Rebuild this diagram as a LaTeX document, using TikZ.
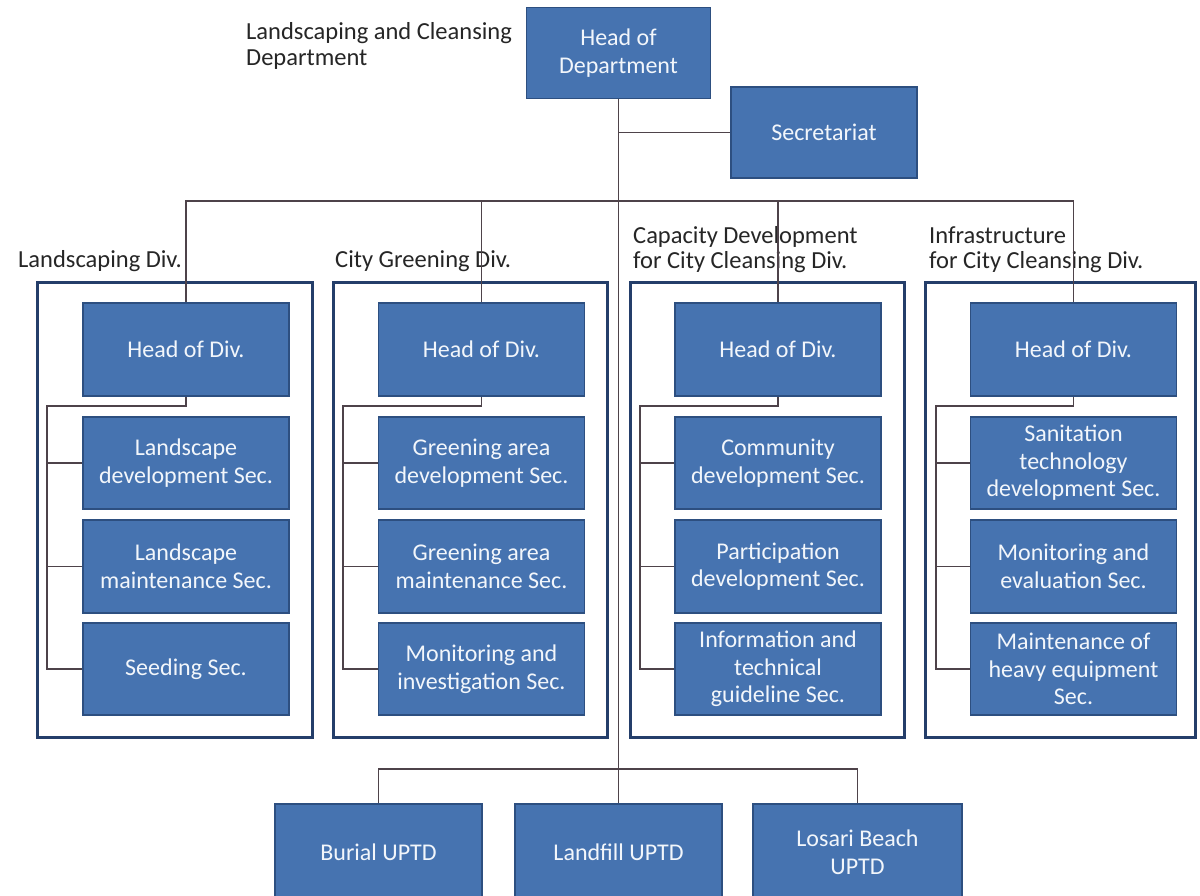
\documentclass[tikz,border=0pt]{standalone}
\usepackage{fontspec}
\setmainfont{Carlito}
\definecolor{boxfill}{HTML}{4673B0}
\definecolor{boxedge}{HTML}{2D4F80}
\definecolor{boxtext}{HTML}{F2F6FB}
\definecolor{framecol}{HTML}{243E6A}
\definecolor{linecol}{HTML}{4E434A}
\definecolor{labelcol}{HTML}{262626}
\begin{document}
\begin{tikzpicture}[x=1pt,y=-1pt,
  unit/.style={draw=boxedge, line width=1.6pt, fill=boxfill, text=boxtext,
    font=\fontsize{24}{27.5}\selectfont, align=center, inner sep=0pt,
    minimum width=206pt, minimum height=93pt},
  divframe/.style={draw=framecol, line width=3pt, inner sep=0pt,
    minimum height=455pt},
  caption/.style={text=labelcol, font=\fontsize{24.5}{25.5}\selectfont,
    align=left, anchor=west, inner sep=0pt},
  conn/.style={draw=linecol, line width=1.4pt}]

\clip (0,0) rectangle (1200,895);
\fill[white] (0,0) rectangle (1200,895);

% department level
\node[caption] (title) at (246,46) {Landscaping and Cleansing\\Department};
\node[unit, minimum width=184pt, minimum height=91pt] (hod) at (618.5,53) {Head of\\Department};
\node[unit, minimum width=186pt, minimum height=91pt] (sec) at (824,132.5) {Secretariat};

% division frames and captions
\node[divframe, minimum width=275pt] (f1) at (174.5,509.5) {};
\node[divframe, minimum width=274pt] (f2) at (470,509.5) {};
\node[divframe, minimum width=274pt] (f3) at (767,509.5) {};
\node[divframe, minimum width=270pt] (f4) at (1060,509.5) {};

\node[caption] (l1) at (18,261) {Landscaping Div.};
\node[caption] (l2) at (335,261) {City Greening Div.};
\node[caption] (l3) at (633,249.5) {Capacity Development\\for City Cleansing Div.};
\node[caption] (l4) at (929,249.5) {Infrastructure\\for City Cleansing Div.};

% heads of division
\node[unit] (hd1) at (186,349.5) {Head of Div.};
\node[unit] (hd2) at (481.5,349.5) {Head of Div.};
\node[unit] (hd3) at (778,349.5) {Head of Div.};
\node[unit] (hd4) at (1073.5,349.5) {Head of Div.};

% sections
\node[unit, minimum height=92pt] (s11) at (186,463) {Landscape\\development Sec.};
\node[unit] (s12) at (186,566.5) {Landscape\\maintenance Sec.};
\node[unit, minimum height=92pt] (s13) at (186,669) {Seeding Sec.};

\node[unit, minimum height=92pt] (s21) at (481.5,463) {Greening area\\development Sec.};
\node[unit] (s22) at (481.5,566.5) {Greening area\\maintenance Sec.};
\node[unit, minimum height=92pt] (s23) at (481.5,669) {Monitoring and\\investigation Sec.};

\node[unit, minimum height=92pt] (s31) at (778,463) {Community\\development Sec.};
\node[unit] (s32) at (778,566.5) {Participation\\development Sec.};
\node[unit, minimum height=92pt] (s33) at (778,669) {Information and\\technical\\guideline Sec.};

\node[unit, minimum height=92pt] (s41) at (1073.5,463) {Sanitation\\technology\\development Sec.};
\node[unit] (s42) at (1073.5,566.5) {Monitoring and\\evaluation Sec.};
\node[unit, minimum height=92pt] (s43) at (1073.5,669) {Maintenance of\\heavy equipment\\Sec.};

% technical units
\node[unit, minimum width=207pt, minimum height=96pt] (burial) at (378.5,852) {Burial UPTD};
\node[unit, minimum width=207pt, minimum height=96pt] (landfill) at (618.5,852) {Landfill UPTD};
\node[unit, minimum width=209pt, minimum height=96pt] (losari) at (857.5,852) {Losari Beach\\UPTD};

% bus junctions
\coordinate (dbus) at (619,201);
\coordinate (bbus) at (619,769);
\coordinate (e1) at (47,406);
\coordinate (e2) at (343,406);
\coordinate (e3) at (640,406);
\coordinate (e4) at (936,406);

% department connectors
\draw[conn] (hod.south) -- (landfill.north);
\draw[conn] (hod.south |- sec.west) -- (sec.west);
\draw[conn] (hd1.north) |- (dbus) -| (hd4.north);
\draw[conn] (hd2.north) -- (hd2.north |- dbus);
\draw[conn] (hd3.north) -- (hd3.north |- dbus);
\draw[conn] (burial.north) |- (bbus) -| (losari.north);

% division connectors
\foreach \d in {1,2,3,4}{
  \draw[conn] (hd\d.south) |- (e\d) |- (s\d3.west);
  \draw[conn] (e\d |- s\d1.west) -- (s\d1.west);
  \draw[conn] (e\d |- s\d2.west) -- (s\d2.west);
}
\end{tikzpicture}
\end{document}
